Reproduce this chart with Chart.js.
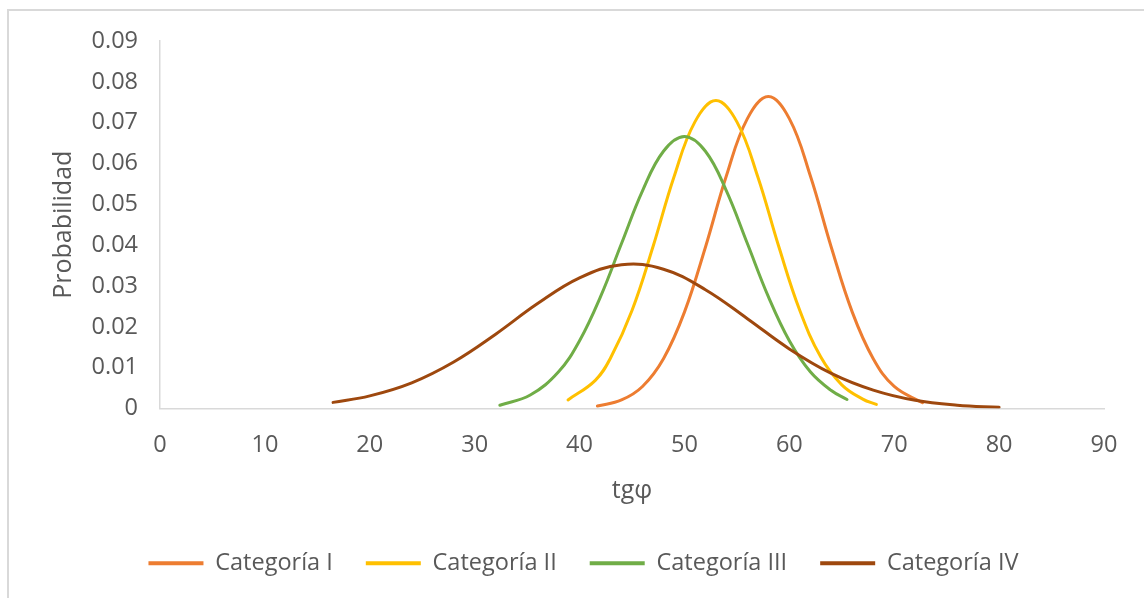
<!DOCTYPE html>
<html>
<head>
<meta charset="utf-8">
<script src="https://cdn.jsdelivr.net/npm/chart.js@4"></script>
<style>
  html, body { margin: 0; padding: 0; background: #fff; overflow: hidden; }
  #frame { position: absolute; left: 7px; top: 9px; width: 1200px; height: 700px; border: 2px solid #d9d9d9; box-sizing: border-box; }
  #prob-chart { position: absolute; left: 0; top: 0; }
</style>
</head>
<body>
<div id="frame"></div>
<canvas id="prob-chart" width="1144" height="598"></canvas>
<script>
Chart.defaults.font.family = "'Open Sans'";
Chart.defaults.color = '#595959';

// tgφ values and probability for each category
const catIX = [41.7, 44, 46, 48, 50, 52, 54, 56, 58, 60, 62, 64, 66, 68, 70, 72.7];
const catIY = [0.0006, 0.0021, 0.0054, 0.0122, 0.0236, 0.0395, 0.0570, 0.0710, 0.0764, 0.0710, 0.0570, 0.0395, 0.0236, 0.0122, 0.0054, 0.0014];

const catIIX = [38.9, 41.5, 43, 45, 47, 49, 51, 53, 55, 57, 59, 61, 63, 65, 67, 68.3];
const catIIY = [0.0021, 0.0069, 0.0126, 0.0240, 0.0396, 0.0567, 0.0702, 0.0754, 0.0702, 0.0567, 0.0396, 0.0240, 0.0126, 0.0058, 0.0023, 0.0010];

const catIIIX = [32.4, 35.3, 38, 40, 42, 44, 46, 48, 50, 52, 54, 56, 58, 60, 62, 64, 65.5];
const catIIIY = [0.0008, 0.0033, 0.0090, 0.0166, 0.0274, 0.0404, 0.0533, 0.0630, 0.0666, 0.0630, 0.0533, 0.0404, 0.0274, 0.0166, 0.0090, 0.0044, 0.0022];

const catIVX = [16.5, 20, 24, 28, 32, 36, 40, 44, 48, 52, 56, 60, 64, 68, 72, 76, 80];
const catIVY = [0.0015, 0.0031, 0.0063, 0.0114, 0.0182, 0.0257, 0.0320, 0.0352, 0.0341, 0.0291, 0.0220, 0.0146, 0.0086, 0.0045, 0.0020, 0.0008, 0.0003];

const seriesNames = ['Categoría I', 'Categoría II', 'Categoría III', 'Categoría IV'];
const seriesColors = ['#ED7D31', '#FFC000', '#70AD47', '#9E480E'];
const seriesX = [catIX, catIIX, catIIIX, catIVX];
const seriesY = [catIY, catIIY, catIIIY, catIVY];

const xTicks = [0, 10, 20, 30, 40, 50, 60, 70, 80, 90];

const datasets = seriesNames.map((name, i) => ({
  label: name,
  data: seriesX[i].map((x, j) => ({ x: x, y: seriesY[i][j] })),
  showLine: true,
  borderColor: seriesColors[i],
  backgroundColor: seriesColors[i],
  borderWidth: 3,
  borderCapStyle: 'round',
  pointRadius: 0,
  tension: 0.4,
  order: seriesNames.length - i, // later series on top
}));

const ctx = document.getElementById('prob-chart').getContext('2d');
const probChart = new Chart(ctx, {
  type: 'scatter',
  data: { datasets: datasets },
  options: {
    responsive: false,
    animation: false,
    layout: {
      // wider left side pushes the legend a bit to the right
      padding: { left: 63, right: 40, top: 41, bottom: 13 }
    },
    scales: {
      x: {
        type: 'linear',
        min: 0,
        max: 90,
        afterBuildTicks: (scale) => {
          scale.ticks = xTicks.map(v => ({ value: v }));
        },
        afterFit: (scale) => { scale.height = 110; },
        grid: { display: false, drawTicks: false },
        border: { display: true, color: '#d9d9d9', width: 1.5 },
        ticks: { padding: 23, font: { size: 23.5 } },
        title: { display: true, text: 'tgφ', font: { size: 25 }, padding: { top: 0, bottom: 12.5 } }
      },
      y: {
        min: 0,
        max: 0.09,
        ticks: {
          stepSize: 0.01,
          padding: 22,
          font: { size: 23.5 },
          callback: (v) => (Math.abs(v) < 1e-9 ? '0' : v.toFixed(2))
        },
        afterFit: (scale) => { scale.width = 97; },
        grid: { display: false, drawTicks: false },
        border: { display: true, color: '#d9d9d9', width: 1.5 },
        title: { display: true, text: 'Probabilidad', font: { size: 25 }, padding: { top: -14, bottom: 0 } }
      }
    },
    plugins: {
      tooltip: { enabled: false },
      legend: {
        position: 'bottom',
        labels: {
          boxWidth: 55,
          boxHeight: 4,
          padding: 33,
          font: { size: 23.5 },
          sort: (a, b) => a.datasetIndex - b.datasetIndex,
          generateLabels: (chart) =>
            Chart.defaults.plugins.legend.labels.generateLabels(chart).map(item => {
              item.lineWidth = 0;
              item.fillStyle = seriesColors[item.datasetIndex];
              return item;
            })
        }
      }
    }
  }
});
</script>
</body>
</html>
